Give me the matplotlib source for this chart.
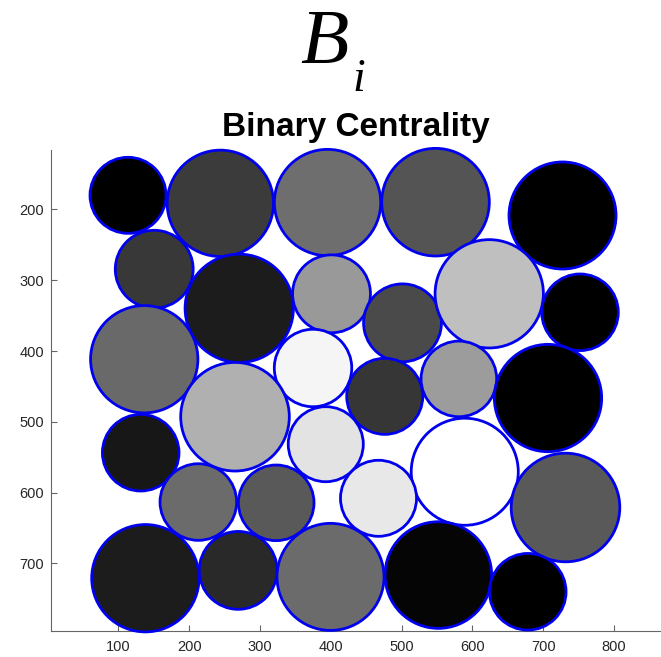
import matplotlib
matplotlib.use("Agg")
import matplotlib.pyplot as plt
from matplotlib.patches import Circle

# circle centres, radii and grey level (0 = black, 1 = white)
cx = [113.7, 244.1, 395.5, 548.0, 727.4,
      150.7, 270.8, 401.1, 501.4, 623.9, 752.1,
      136.6, 375.0, 476.3, 581.0, 706.9,
      264.8, 393.0, 131.6, 589.3,
      213.0, 323.0, 467.5, 731.6,
      138.2, 269.3, 399.7, 552.0, 678.3]
cy = [180.1, 191.4, 190.3, 189.8, 208.6,
      284.5, 339.7, 319.2, 360.2, 319.2, 345.3,
      411.6, 424.0, 464.0, 439.4, 466.4,
      492.8, 531.6, 543.6, 570.5,
      613.3, 614.4, 608.0, 621.0,
      720.9, 709.8, 719.0, 716.4, 740.0]
radius = [53.7, 75.1, 75.1, 76.0, 75.6,
          55.0, 76.5, 55.0, 55.0, 76.5, 54.1,
          75.8, 54.7, 53.7, 53.4, 75.8,
          76.7, 53.0, 54.1, 75.6,
          54.1, 53.4, 53.7, 76.7,
          75.8, 55.0, 75.6, 75.3, 54.1]
grey = [0.00, 0.23, 0.43, 0.33, 0.00,
        0.22, 0.11, 0.60, 0.29, 0.75, 0.00,
        0.41, 0.96, 0.21, 0.61, 0.00,
        0.69, 0.89, 0.09, 1.00,
        0.42, 0.35, 0.91, 0.35,
        0.11, 0.16, 0.42, 0.02, 0.00]

xticks = [100, 200, 300, 400, 500, 600, 700, 800]
yticks = [200, 300, 400, 500, 600, 700]

fig = plt.figure(figsize=(6.61, 6.57), dpi=100)
ax = fig.add_axes([51 / 661, 1 - 630.7 / 657, 610 / 661, 480.7 / 657])

for x, y, r, g in zip(cx, cy, radius, grey):
    ax.add_patch(Circle((x, y), r, facecolor=(g, g, g), edgecolor="#0000ee",
                        lw=2, clip_on=False, zorder=3))

ax.set_xlim(4.9, 866.5)
ax.set_ylim(795, 116.1)
ax.set_xticks(xticks)
ax.set_yticks(yticks)
for s in ["top", "right"]:
    ax.spines[s].set_visible(False)
for s in ["left", "bottom"]:
    ax.spines[s].set_color("#666666")
    ax.spines[s].set_linewidth(0.8)
ax.tick_params(direction="in", length=4.5, width=0.8, color="#666666",
               labelsize=10.5, labelcolor="#262626")
ax.tick_params(axis="y", pad=4.8)
ax.tick_params(axis="x", pad=7)
for lab in ax.get_xticklabels() + ax.get_yticklabels():
    lab.set_family("Liberation Sans")

fig.text(356 / 661, 1 - 136 / 657, "Binary Centrality", ha="center", va="baseline",
         fontsize=24, fontweight="bold", family="Liberation Sans")
fig.text(300 / 661, 1 - 62.7 / 657, "B", ha="left", va="baseline",
         fontsize=57, style="italic", family="Liberation Serif")
fig.text(352 / 661, 1 - 90.7 / 657, "i", ha="left", va="baseline",
         fontsize=33, style="italic", family="Liberation Serif")

fig.savefig("out.png", dpi=100)
